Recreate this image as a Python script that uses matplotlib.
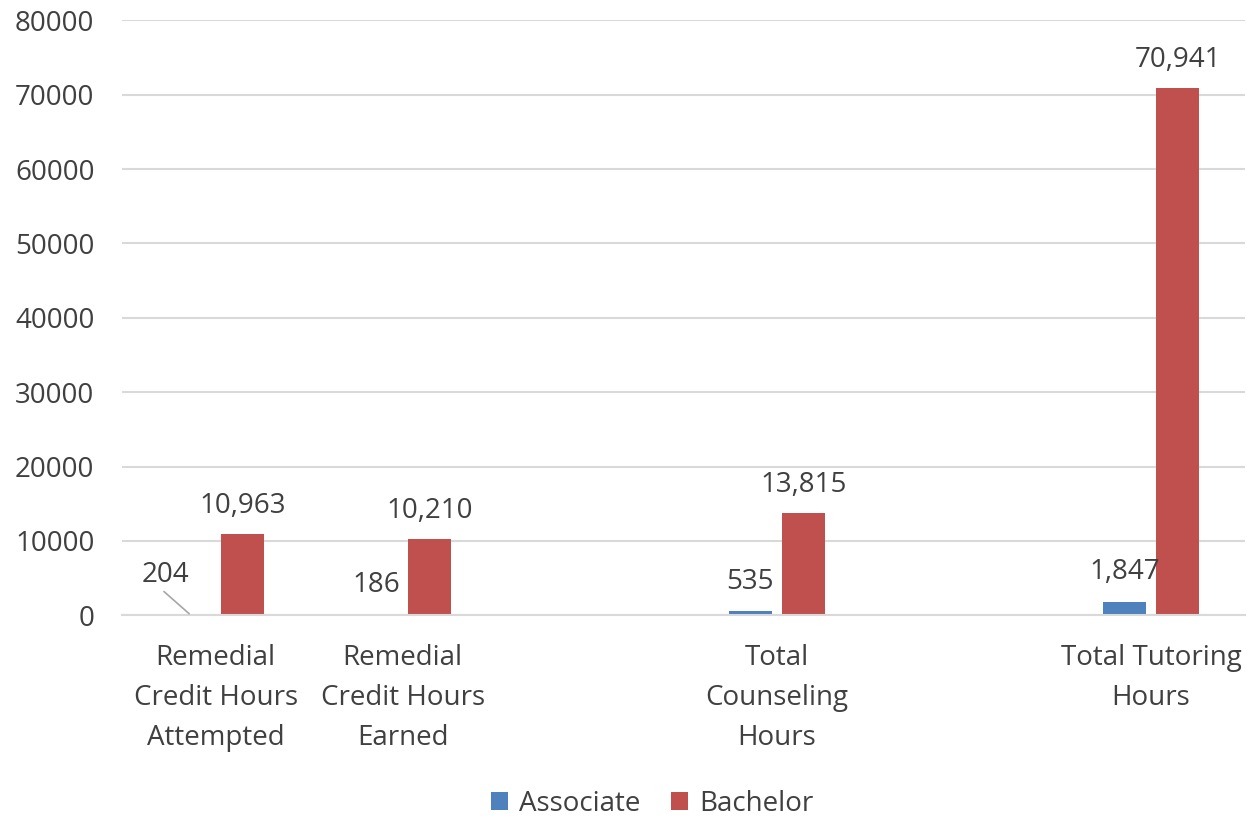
import matplotlib.pyplot as plt
import numpy as np

plt.rcParams['font.family'] = ['Open Sans', 'DejaVu Sans']

# two blank slots as in the source chart
categories = ["Remedial\nCredit Hours\nAttempted", "Remedial\nCredit Hours\nEarned", "",
              "Total\nCounseling\nHours", "", "Total Tutoring\nHours"]
associate = [204, 186, np.nan, 535, np.nan, 1847]
bachelor = [10963, 10210, np.nan, 13815, np.nan, 70941]
series_names = ["Associate", "Bachelor"]

blue = "#4F81BD"
red = "#C0504D"
txt = "#404040"
fs = 20

fig = plt.figure(figsize=(12.47, 8.16), dpi=100)
ax = fig.add_axes([0.098, 0.246, 0.900, 0.729])

x = np.arange(len(categories))
w = 0.23
off = 0.142
b1 = ax.bar(x - off, associate, w, color=blue, label=series_names[0])
b2 = ax.bar(x + off, bachelor, w, color=red, label=series_names[1])

ax.set_xlim(-0.5, len(categories) - 0.5)
ax.set_ylim(0, 80000)
ax.set_yticks(np.arange(0, 80001, 10000))
ax.grid(axis='y', color='#D9D9D9', linewidth=1.5)
ax.set_axisbelow(True)
for s in ['top', 'right', 'left']:
    ax.spines[s].set_visible(False)
ax.spines['bottom'].set_color('#D9D9D9')
ax.spines['bottom'].set_linewidth(1.5)
ax.tick_params(axis='both', length=0, labelsize=fs, colors=txt)
ax.tick_params(axis='x', pad=21)
ax.tick_params(axis='y', pad=20)
ax.set_xticks(x)
ax.set_xticklabels(categories, linespacing=1.55)

for i, v in enumerate(bachelor):
    if np.isnan(v):
        continue
    ax.annotate(f"{v:,.0f}", (x[i] + off, v), xytext=(0, 10), textcoords='offset points',
                ha='center', va='bottom', fontsize=fs, color=txt)

for i, v in enumerate(associate):
    if np.isnan(v):
        continue
    if i == 0:
        ax.annotate(f"{v:,.0f}", (x[i] - off, v), xytext=(-17, 18), textcoords='offset points',
                    ha='center', va='bottom', fontsize=fs, color=txt,
                    arrowprops=dict(arrowstyle='-', color='#A6A6A6', lw=1.2, shrinkA=0, shrinkB=0,
                                    relpos=(0.4, 0)))
    else:
        ax.annotate(f"{v:,.0f}", (x[i] - off, v), xytext=(0, 11), textcoords='offset points',
                    ha='center', va='bottom', fontsize=fs, color=txt)

fig.legend(handles=[b1, b2], loc='center', bbox_to_anchor=(0.523, 0.015), ncol=2, frameon=False,
           fontsize=fs, labelcolor=txt, handlelength=0.6, handleheight=0.6, handletextpad=0.4,
           columnspacing=1.1)

fig.savefig("out.png", dpi=100)
